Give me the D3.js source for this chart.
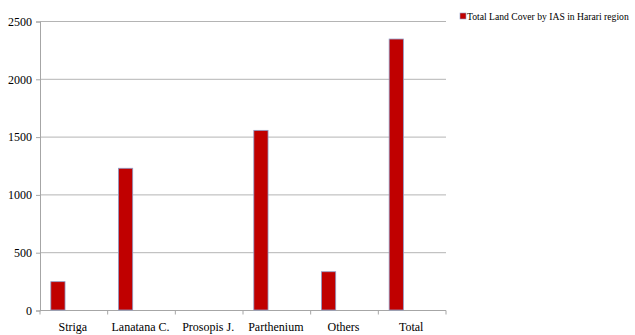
<!DOCTYPE html>
<html>
<head>
<meta charset="utf-8">
<script src="https://cdn.jsdelivr.net/npm/d3@7"></script>
<style>
	body { margin: 0; background: #fff; }
</style>
</head>
<body>
<svg width="635" height="335"></svg>
<script>
// chart data
var categories = ['Striga', 'Lanatana C.', 'Prosopis J.', 'Parthenium', 'Others', 'Total'];
var values = [245, 1226, 0, 1554, 331, 2344];
var yTicks = [0, 500, 1000, 1500, 2000, 2500];
var seriesName = 'Total Land Cover by IAS in Harari region';

var serif = "'Liberation Serif', 'Times New Roman', Tinos, 'DejaVu Serif', serif";
var svg = d3.select('svg').style('font-family', serif);
var plotL = 40, plotR = 446, plotT = 21, plotB = 310;

var x = d3.scaleBand().domain(categories).range([plotL, plotR]);
var y = d3.scaleLinear().domain([0, 2500]).range([plotB, plotT]);

// gridlines
svg.append('g').selectAll('line')
	.data(yTicks.slice(1))
	.enter().append('line')
	.attr('x1', plotL).attr('x2', plotR)
	.attr('y1', function(d){ return y(d) + 0.5; })
	.attr('y2', function(d){ return y(d) + 0.5; })
	.attr('stroke', '#b4b4b4').attr('stroke-width', 1);

// y axis
var yAxis = svg.append('g')
	.attr('transform', 'translate(' + plotL + ',0.5)')
	.call(d3.axisLeft(y).tickValues(yTicks).tickSize(4).tickPadding(4).tickFormat(d3.format('d')))
	.attr('font-family', serif).attr('font-size', 12);
yAxis.selectAll('line, path').attr('stroke', '#a6a6a6');
yAxis.selectAll('text').attr('fill', '#000');

// x axis, ticks between categories
var xAxis = svg.append('g')
	.attr('transform', 'translate(0,' + (plotB + 0.5) + ')');
xAxis.append('line').attr('x1', plotL).attr('x2', plotR).attr('stroke', '#a6a6a6');
xAxis.selectAll('.tk')
	.data(categories.concat(['end']))
	.enter().append('line')
	.attr('x1', function(d, i){ return plotL + i * x.bandwidth(); })
	.attr('x2', function(d, i){ return plotL + i * x.bandwidth(); })
	.attr('y1', 0).attr('y2', 4)
	.attr('stroke', '#a6a6a6');
xAxis.selectAll('text')
	.data(categories)
	.enter().append('text')
	.attr('x', function(d){ return x(d) + x.bandwidth() / 2 - 1; })
	.attr('y', 20)
	.attr('text-anchor', 'middle')
	.attr('font-family', serif)
	.attr('font-size', 12)
	.text(function(d){ return d; });

// bars
var bw = x.bandwidth();
svg.append('g').selectAll('rect')
	.data(values)
	.enter().append('rect')
	.attr('x', function(d, i){ return x(categories[i]) + bw * 0.16; })
	.attr('width', bw * 0.21)
	.attr('y', function(d){ return y(d); })
	.attr('height', function(d){ return plotB - y(d); })
	.attr('fill', '#c00000')
	.attr('stroke', '#8e9cc8')
	.attr('stroke-width', 0.8)
	.style('display', function(d){ return d > 0 ? null : 'none'; });

// legend: squeeze the label horizontally so it fits like the original
var lg = svg.append('g').attr('transform', 'translate(460,13)');
lg.append('rect').attr('width', 6).attr('height', 6)
	.attr('fill', '#c00000').attr('stroke', '#8e9cc8').attr('stroke-width', 0.6);
var lt = lg.append('text')
	.attr('font-family', serif)
	.attr('font-size', 11)
	.attr('y', 7)
	.text(seriesName);
var natural = lt.node().getComputedTextLength();
var sx = Math.min(1, 162 / natural);
lt.attr('transform', 'translate(7,0) scale(' + sx + ',1)');
</script>
</body>
</html>
